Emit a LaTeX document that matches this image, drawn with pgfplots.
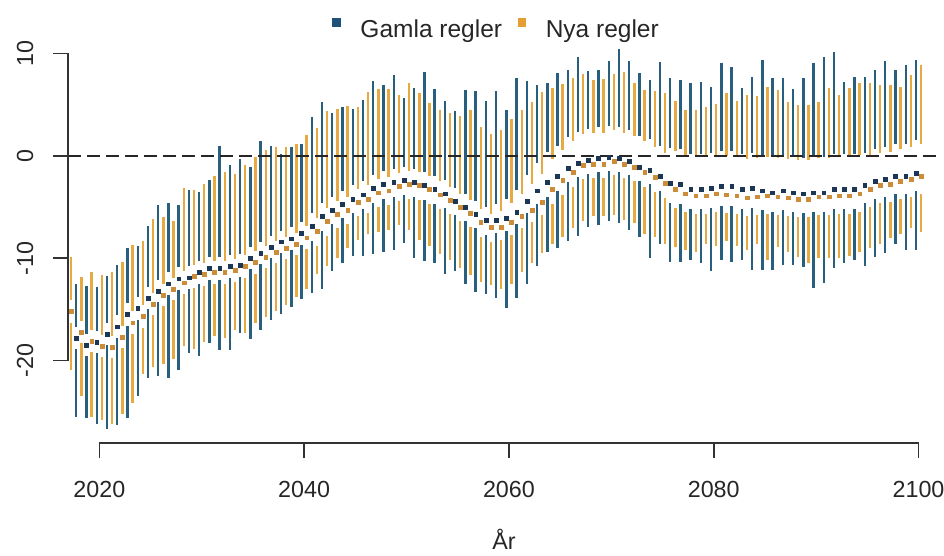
\documentclass[border=0pt]{standalone}
\usepackage{fontspec}
\setmainfont{Liberation Sans}
\usepackage{pgfplots}
\usepackage{pgfplotstable}
\pgfplotsset{compat=1.18}
\definecolor{blueC}{RGB}{40,94,126}
\definecolor{orangeC}{RGB}{231,170,66}
\definecolor{blueD}{RGB}{28,55,85}
\definecolor{orangeD}{RGB}{205,140,55}
\definecolor{blueL}{RGB}{30,82,120}
\definecolor{orangeL}{RGB}{228,158,52}
\definecolor{axc}{RGB}{50,50,50}

% Gamla regler: x med lo lt ub hi
\pgfplotstableread{
x med lo lt ub hi
2017.75 -17.8 -25.5 -18.9 -16.7 -12.5
2018.75 -18.5 -25.6 -19.6 -17.4 -12.7
2019.75 -18.2 -26.2 -19.3 -17.1 -12.8
2020.75 -17.4 -26.7 -18.5 -16.3 -11.7
2021.75 -16.7 -26.3 -17.8 -15.6 -10.7
2022.75 -15.5 -25.6 -16.6 -14.4 -9.0
2023.75 -14.9 -23.5 -16.0 -13.8 -8.8
2024.75 -13.9 -21.7 -15.0 -12.8 -6.9
2025.75 -13.2 -21.5 -14.3 -12.1 -4.8
2026.75 -12.5 -21.7 -13.6 -11.4 -4.6
2027.75 -12.0 -20.9 -13.1 -10.9 -4.8
2028.75 -11.9 -19.3 -13.0 -10.8 -3.3
2029.75 -11.4 -19.6 -12.5 -10.3 -3.5
2030.75 -11.0 -18.3 -12.1 -9.9 -2.4
2031.75 -11.0 -19.0 -12.1 -9.9 1.0
2032.75 -10.8 -19.0 -11.9 -9.7 -0.9
2033.75 -10.7 -17.3 -11.8 -9.6 -0.3
2034.75 -10.0 -17.9 -11.1 -8.9 -1.1
2035.75 -9.5 -17.0 -10.6 -8.4 1.4
2036.75 -8.9 -16.0 -10.0 -7.8 1.0
2037.75 -8.4 -15.5 -9.5 -7.3 0.2
2038.75 -8.1 -14.8 -9.2 -7.0 0.9
2039.75 -7.6 -14.0 -8.7 -6.5 1.2
2040.75 -6.9 -13.4 -8.3 -5.6 3.8
2041.75 -5.9 -13.0 -7.3 -4.6 5.3
2042.75 -5.3 -11.3 -6.7 -4.0 4.2
2043.75 -4.7 -10.5 -6.1 -3.4 4.8
2044.75 -4.2 -9.8 -5.6 -2.9 4.6
2045.75 -3.8 -9.8 -5.2 -2.5 5.5
2046.75 -3.2 -9.6 -4.6 -1.9 7.3
2047.75 -2.8 -9.4 -4.2 -1.5 6.9
2048.75 -2.6 -9.2 -4.0 -1.3 7.9
2049.75 -2.4 -8.5 -3.8 -1.1 5.6
2050.75 -2.6 -10.0 -4.0 -1.3 6.6
2051.75 -2.9 -10.3 -4.3 -1.6 8.2
2052.75 -3.3 -10.5 -4.7 -2.0 6.5
2053.75 -3.7 -11.5 -5.1 -2.4 5.4
2054.75 -4.4 -11.3 -5.8 -3.1 4.4
2055.75 -5.0 -12.5 -6.4 -3.7 6.4
2056.75 -5.7 -13.3 -7.1 -4.4 6.3
2057.75 -6.3 -13.5 -7.7 -5.0 5.4
2058.75 -6.3 -13.9 -7.5 -4.7 6.3
2059.75 -6.1 -14.9 -7.3 -4.2 4.5
2060.75 -5.5 -13.9 -6.7 -3.3 7.6
2061.75 -4.4 -12.5 -5.6 -1.9 7.3
2062.75 -3.4 -10.8 -4.7 -0.7 6.9
2063.75 -2.6 -9.4 -4.0 0.4 7.1
2064.75 -2.0 -9.0 -3.4 1.0 8.1
2065.75 -1.2 -8.3 -2.6 1.8 8.4
2066.75 -0.7 -7.8 -2.1 2.3 9.7
2067.75 -0.4 -7.0 -1.8 2.6 8.3
2068.75 -0.2 -6.8 -1.6 2.8 8.4
2069.75 -0.1 -6.4 -1.5 2.9 9.3
2070.75 -0.2 -6.6 -1.6 2.8 10.4
2071.75 -0.5 -7.2 -1.9 2.5 9.3
2072.75 -1.1 -7.9 -2.5 1.9 8.1
2073.75 -1.4 -10.0 -2.8 1.6 7.4
2074.75 -2.0 -8.6 -3.4 1.0 9.2
2075.75 -2.7 -10.4 -4.6 0.8 7.6
2076.75 -2.8 -10.4 -4.7 0.7 7.4
2077.75 -3.3 -10.2 -5.2 0.2 7.1
2078.75 -3.3 -10.5 -5.2 0.2 7.2
2079.75 -3.2 -11.3 -5.1 0.3 6.7
2080.75 -3.0 -10.2 -4.9 0.5 9.1
2081.75 -3.0 -10.4 -4.9 0.5 8.7
2082.75 -3.3 -10.2 -5.2 0.2 6.6
2083.75 -3.2 -11.2 -5.1 0.3 7.7
2084.75 -3.4 -11.2 -5.3 0.1 9.4
2085.75 -3.6 -11.2 -5.5 -0.1 7.6
2086.75 -3.4 -10.7 -5.3 0.1 7.6
2087.75 -3.6 -10.7 -5.5 -0.1 6.5
2088.75 -3.7 -10.9 -5.6 -0.2 7.6
2089.75 -3.6 -12.9 -5.5 -0.1 9.1
2090.75 -3.6 -12.4 -5.5 -0.1 9.7
2091.75 -3.3 -11.0 -5.2 0.2 10.1
2092.75 -3.3 -10.5 -5.2 0.2 7.2
2093.75 -3.3 -10.2 -5.2 0.2 7.7
2094.75 -2.9 -10.8 -4.6 0.3 7.7
2095.75 -2.5 -9.9 -4.2 0.7 8.4
2096.75 -2.3 -9.5 -4.0 0.9 9.3
2097.75 -2.0 -8.6 -3.7 1.2 8.4
2098.75 -2.0 -9.2 -3.7 1.2 8.9
2099.75 -1.7 -9.2 -3.4 1.5 9.4
}\gamla

% Nya regler: x med lo lt ub hi
\pgfplotstableread{
x med lo lt ub hi
2017.25 -15.2 -20.9 -16.3 -14.1 -9.9
2018.25 -17.2 -23.5 -18.3 -16.1 -11.8
2019.25 -18.1 -25.5 -19.2 -17.0 -11.4
2020.25 -18.6 -25.8 -19.7 -17.5 -11.6
2021.25 -18.7 -26.2 -19.8 -17.6 -11.4
2022.25 -17.7 -25.2 -18.8 -16.6 -10.4
2023.25 -16.3 -24.2 -17.4 -15.2 -8.7
2024.25 -15.7 -21.3 -16.8 -14.6 -8.3
2025.25 -14.5 -20.6 -15.6 -13.4 -6.2
2026.25 -13.6 -20.3 -14.7 -12.5 -6.0
2027.25 -13.0 -19.9 -14.1 -11.9 -6.4
2028.25 -12.4 -18.6 -13.5 -11.3 -3.1
2029.25 -11.8 -18.9 -12.9 -10.7 -3.3
2030.25 -11.6 -18.2 -12.7 -10.5 -2.8
2031.25 -11.4 -17.6 -12.5 -10.3 -2.0
2032.25 -11.4 -17.8 -12.5 -10.3 -1.6
2033.25 -11.2 -17.0 -12.3 -10.1 -1.8
2034.25 -10.8 -17.3 -11.9 -9.7 -0.9
2035.25 -10.4 -16.3 -11.5 -9.3 -0.1
2036.25 -9.9 -15.7 -11.0 -8.8 0.6
2037.25 -9.4 -15.2 -10.5 -8.3 0.9
2038.25 -9.0 -14.6 -10.1 -7.9 0.9
2039.25 -8.6 -13.8 -9.7 -7.5 1.2
2040.25 -8.0 -13.0 -9.1 -6.9 2.0
2041.25 -7.4 -11.5 -8.8 -6.1 2.7
2042.25 -6.4 -10.8 -7.8 -5.1 4.4
2043.25 -5.7 -10.0 -7.1 -4.4 4.6
2044.25 -5.3 -9.0 -6.7 -4.0 4.9
2045.25 -4.5 -8.2 -5.9 -3.2 4.8
2046.25 -4.2 -7.6 -5.6 -2.9 6.2
2047.25 -3.6 -7.4 -5.0 -2.3 6.5
2048.25 -3.4 -7.2 -4.8 -2.1 6.5
2049.25 -3.0 -6.8 -4.4 -1.7 5.9
2050.25 -2.8 -7.2 -4.2 -1.5 7.1
2051.25 -2.9 -8.2 -4.3 -1.6 6.1
2052.25 -3.3 -8.8 -4.7 -2.0 5.2
2053.25 -3.8 -9.6 -5.2 -2.5 4.5
2054.25 -4.3 -10.2 -5.7 -3.0 4.2
2055.25 -5.0 -11.0 -6.4 -3.7 3.9
2056.25 -5.6 -11.6 -7.0 -4.3 4.5
2057.25 -6.5 -12.3 -7.9 -5.2 2.8
2058.25 -7.0 -12.6 -8.4 -5.7 2.1
2059.25 -7.0 -13.0 -8.2 -5.4 2.5
2060.25 -6.5 -12.5 -7.7 -4.6 3.6
2061.25 -5.9 -11.4 -7.1 -3.7 4.5
2062.25 -5.3 -10.5 -6.5 -2.8 5.3
2063.25 -4.5 -9.5 -5.8 -1.8 6.2
2064.25 -3.3 -8.6 -4.7 -0.3 6.6
2065.25 -2.4 -7.9 -3.8 0.6 7.0
2066.25 -1.6 -7.1 -3.0 1.4 7.6
2067.25 -0.9 -6.4 -2.3 2.1 8.0
2068.25 -0.8 -5.9 -2.2 2.2 7.4
2069.25 -0.8 -5.9 -2.2 2.2 7.5
2070.25 -0.5 -5.8 -1.9 2.5 8.0
2071.25 -0.8 -6.3 -2.2 2.2 8.2
2072.25 -1.1 -6.6 -2.5 1.9 7.1
2073.25 -1.6 -7.6 -3.0 1.4 6.4
2074.25 -2.1 -7.9 -3.5 0.9 6.3
2075.25 -2.7 -8.6 -4.1 0.3 6.1
2076.25 -3.3 -8.9 -5.1 0.5 5.4
2077.25 -3.7 -9.2 -5.5 0.1 4.5
2078.25 -3.9 -9.4 -5.7 -0.1 4.5
2079.25 -3.9 -8.6 -5.7 -0.1 4.8
2080.25 -3.7 -8.8 -5.5 0.1 5.1
2081.25 -3.8 -8.3 -5.6 0.0 6.1
2082.25 -3.9 -8.8 -5.7 -0.1 5.4
2083.25 -4.1 -9.2 -5.9 -0.3 5.9
2084.25 -4.0 -8.6 -5.8 -0.2 5.8
2085.25 -3.9 -10.2 -5.7 -0.1 6.7
2086.25 -4.0 -8.9 -5.8 -0.2 6.4
2087.25 -4.1 -9.4 -5.9 -0.3 5.3
2088.25 -4.2 -9.9 -6.0 -0.4 5.0
2089.25 -4.2 -10.5 -6.0 -0.4 5.0
2090.25 -4.0 -10.0 -5.8 -0.2 5.3
2091.25 -4.0 -10.0 -5.8 -0.2 6.6
2092.25 -3.9 -10.0 -5.7 -0.1 5.9
2093.25 -3.9 -9.8 -5.7 -0.1 6.6
2094.25 -3.7 -9.4 -5.5 0.1 7.1
2095.25 -3.3 -9.0 -5.0 -0.1 7.1
2096.25 -2.9 -8.6 -4.6 0.3 6.9
2097.25 -2.8 -8.0 -4.5 0.4 6.9
2098.25 -2.5 -7.6 -4.2 0.7 6.7
2099.25 -2.3 -7.1 -4.0 0.9 7.9
2100.25 -2.0 -7.4 -3.7 1.2 8.9
}\nya

\newcommand{\bigfont}{\fontsize{23.3}{28}\selectfont}
\newcommand{\legfont}{\fontsize{24.5}{29}\selectfont}

\begin{document}
\begin{tikzpicture}
\useasboundingbox (0,0) rectangle (944pt,555pt);
\begin{axis}[
  at={(68pt,112pt)}, anchor=south west,
  scale only axis, width=872pt, height=410pt,
  xmin=2016.94, xmax=2102.1, ymin=-28.06, ymax=12,
  clip=false,
  axis x line*=bottom, axis y line*=left,
  x axis line style={draw=none}, y axis line style={draw=none},
  xtick={2020,2040,2060,2080,2100},
  xticklabels={2020,2040,2060,2080,2100},
  ytick={-20,-10,0,10},
  yticklabels={-20,-10,0,10},
  tick align=outside, major tick length=15pt,
  major tick style={line width=1.6pt, color=axc},
  minor tick num=0,
  tick label style={font=\bigfont, text=black!85},
  xticklabel style={anchor=base, inner sep=0pt},
  yticklabel style={rotate=90, anchor=base, inner sep=0pt},
  xticklabel shift=39pt,
  yticklabel shift=20pt,
  xlabel={År},
  xlabel style={font=\bigfont, text=black!85, inner sep=0pt, at={(axis description cs:0.5,0)}, anchor=base, yshift=-106pt},
  legend columns=1,
  legend style={draw=none, fill=none, font=\legfont, text=black!85,
    inner sep=0pt, outer sep=0pt,
    nodes={inner sep=0pt},
    cells={anchor=west},
    at={(0.3024,1.0359)}, anchor=north west},
]
% Gamla regler
\addplot[forget plot, draw=none, error bars/.cd, y dir=minus, y explicit, error mark=none,
  error bar style={draw=blueC, line width=2.4pt, solid}]
  table[x=x, y=hi, y error minus expr={\thisrow{hi}-\thisrow{ub}}] {\gamla};
\addplot[forget plot, draw=none, error bars/.cd, y dir=minus, y explicit, error mark=none,
  error bar style={draw=blueC, line width=2.4pt, solid}]
  table[x=x, y=lt, y error minus expr={\thisrow{lt}-\thisrow{lo}}] {\gamla};
\addplot[forget plot, only marks, mark=square*, mark size=1.9pt, color=blueD]
  table[x=x, y=med] {\gamla};
% Nya regler
\addplot[forget plot, draw=none, error bars/.cd, y dir=minus, y explicit, error mark=none,
  error bar style={draw=orangeC, line width=2.4pt, solid}]
  table[x=x, y=hi, y error minus expr={\thisrow{hi}-\thisrow{ub}}] {\nya};
\addplot[forget plot, draw=none, error bars/.cd, y dir=minus, y explicit, error mark=none,
  error bar style={draw=orangeC, line width=2.4pt, solid}]
  table[x=x, y=lt, y error minus expr={\thisrow{lt}-\thisrow{lo}}] {\nya};
\addplot[forget plot, only marks, mark=square*, mark size=1.9pt, color=orangeD]
  table[x=x, y=med] {\nya};
% zero line
\draw[black!85, line width=1.8pt, dash pattern=on 13pt off 6pt]
  (axis cs:2016.94,0) -- (axis cs:2102.1,0);
% R-style axis lines
\draw[axc, line width=1.6pt] (axis cs:2020,-28.06) -- (axis cs:2100,-28.06);
\draw[axc, line width=1.6pt] (axis cs:2016.94,-20) -- (axis cs:2016.94,10);
% legend
\addlegendimage{empty legend}
\addlegendentry{\textcolor{blueL}{\rule[10.2pt]{9pt}{9pt}}\hspace{19.8pt}Gamla regler\hspace{15.7pt}\textcolor{orangeL}{\rule[10.2pt]{8.4pt}{9pt}}\hspace{19.6pt}Nya regler}
\end{axis}
\end{tikzpicture}
\end{document}
